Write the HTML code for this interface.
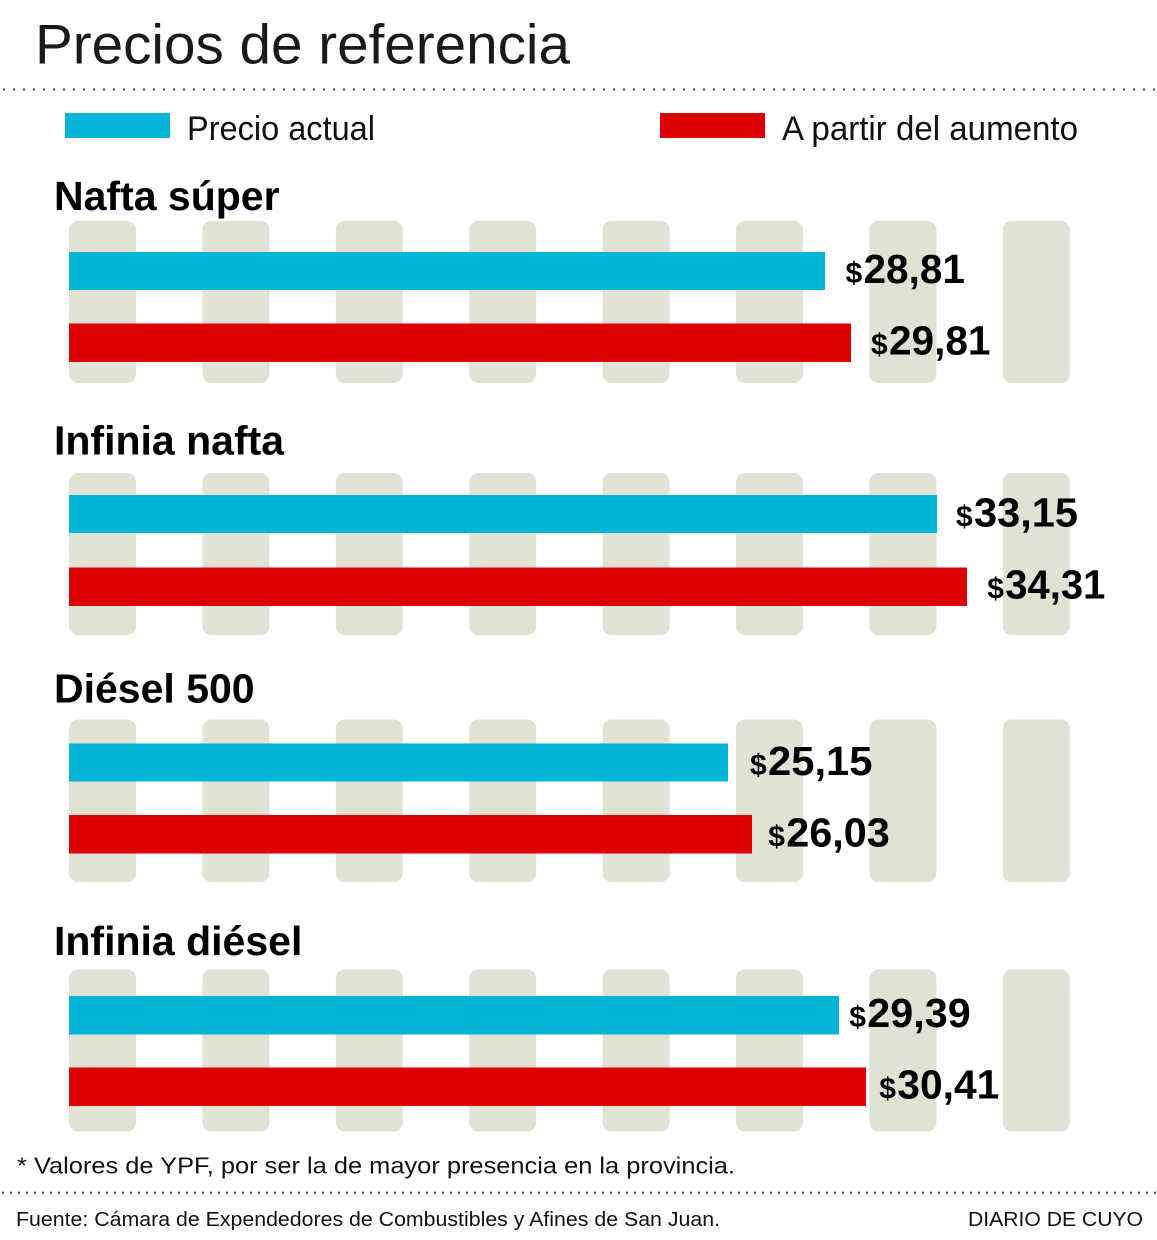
<!DOCTYPE html>
<html>
<head>
<meta charset="utf-8">
<style>
  html, body { margin: 0; padding: 0; background: #ffffff; }
  svg { display: block; }
  text { font-family: "Liberation Sans", Arial, sans-serif; }
</style>
</head>
<body>
<svg width="1157" height="1240" viewBox="0 0 1157 1240" xmlns="http://www.w3.org/2000/svg">
  <rect x="0" y="0" width="1157" height="1240" fill="#ffffff"/>

  <!-- Title -->
  <text x="35" y="63.5" font-size="56" fill="#1a1a1a" textLength="535" lengthAdjust="spacingAndGlyphs">Precios de referencia</text>

  <!-- top dotted line -->
  <line x1="3" y1="89.5" x2="1157" y2="89.5" stroke="#444" stroke-width="2" stroke-dasharray="2 8"/>

  <!-- Legend -->
  <rect x="65" y="113" width="105" height="25" fill="#00b5d7"/>
  <text x="187" y="140" font-size="34" fill="#111" textLength="188" lengthAdjust="spacingAndGlyphs">Precio actual</text>
  <rect x="660" y="113" width="105" height="25" fill="#dd0000"/>
  <text x="782" y="140" font-size="34" fill="#111" textLength="296" lengthAdjust="spacingAndGlyphs">A partir del aumento</text>

  <!-- Group titles -->
  <g font-size="41" font-weight="bold" fill="#000">
    <text x="54" y="210">Nafta súper</text>
    <text x="54" y="454.3">Infinia nafta</text>
    <text x="54" y="702.7">Diésel 500</text>
    <text x="54" y="955">Infinia diésel</text>
  </g>

  <!-- Pillars -->
  <g fill="#e1e1d4">
    <!-- group 1 -->
    <rect x="69" y="221" width="67" height="162" rx="9"/>
    <rect x="202.4" y="221" width="67" height="162" rx="9"/>
    <rect x="335.8" y="221" width="67" height="162" rx="9"/>
    <rect x="469.2" y="221" width="67" height="162" rx="9"/>
    <rect x="602.6" y="221" width="67" height="162" rx="9"/>
    <rect x="736" y="221" width="67" height="162" rx="9"/>
    <rect x="869.4" y="221" width="67" height="162" rx="9"/>
    <rect x="1002.8" y="221" width="67" height="162" rx="9"/>
    <!-- group 2 -->
    <rect x="69" y="473" width="67" height="162" rx="9"/>
    <rect x="202.4" y="473" width="67" height="162" rx="9"/>
    <rect x="335.8" y="473" width="67" height="162" rx="9"/>
    <rect x="469.2" y="473" width="67" height="162" rx="9"/>
    <rect x="602.6" y="473" width="67" height="162" rx="9"/>
    <rect x="736" y="473" width="67" height="162" rx="9"/>
    <rect x="869.4" y="473" width="67" height="162" rx="9"/>
    <rect x="1002.8" y="473" width="67" height="162" rx="9"/>
    <!-- group 3 -->
    <rect x="69" y="719.5" width="67" height="162.5" rx="9"/>
    <rect x="202.4" y="719.5" width="67" height="162.5" rx="9"/>
    <rect x="335.8" y="719.5" width="67" height="162.5" rx="9"/>
    <rect x="469.2" y="719.5" width="67" height="162.5" rx="9"/>
    <rect x="602.6" y="719.5" width="67" height="162.5" rx="9"/>
    <rect x="736" y="719.5" width="67" height="162.5" rx="9"/>
    <rect x="869.4" y="719.5" width="67" height="162.5" rx="9"/>
    <rect x="1002.8" y="719.5" width="67" height="162.5" rx="9"/>
    <!-- group 4 -->
    <rect x="69" y="969.5" width="67" height="162" rx="9"/>
    <rect x="202.4" y="969.5" width="67" height="162" rx="9"/>
    <rect x="335.8" y="969.5" width="67" height="162" rx="9"/>
    <rect x="469.2" y="969.5" width="67" height="162" rx="9"/>
    <rect x="602.6" y="969.5" width="67" height="162" rx="9"/>
    <rect x="736" y="969.5" width="67" height="162" rx="9"/>
    <rect x="869.4" y="969.5" width="67" height="162" rx="9"/>
    <rect x="1002.8" y="969.5" width="67" height="162" rx="9"/>
  </g>

  <!-- Bars -->
  <g>
    <rect x="69" y="252" width="756" height="38" fill="#00b5d7"/>
    <rect x="69" y="323.5" width="782" height="38.5" fill="#dd0000"/>

    <rect x="69" y="495" width="868" height="38" fill="#00b5d7"/>
    <rect x="69" y="567.5" width="898" height="38.5" fill="#dd0000"/>

    <rect x="69" y="743.5" width="659" height="38" fill="#00b5d7"/>
    <rect x="69" y="815" width="683" height="38.5" fill="#dd0000"/>

    <rect x="69" y="996" width="770" height="38.5" fill="#00b5d7"/>
    <rect x="69" y="1067.5" width="797" height="38.5" fill="#dd0000"/>
  </g>

  <!-- Value labels -->
  <g font-weight="bold" fill="#000">
    <text x="845.5" y="283" font-size="30">$</text>
    <text x="863.5" y="283" font-size="41" textLength="101.5" lengthAdjust="spacingAndGlyphs">28,81</text>
    <text x="871" y="354.5" font-size="30">$</text>
    <text x="889" y="354.5" font-size="41" textLength="101.5" lengthAdjust="spacingAndGlyphs">29,81</text>

    <text x="956" y="526.5" font-size="30">$</text>
    <text x="974" y="526.5" font-size="41" textLength="104" lengthAdjust="spacingAndGlyphs">33,15</text>
    <text x="987.3" y="598.5" font-size="30">$</text>
    <text x="1005.3" y="598.5" font-size="41" textLength="100" lengthAdjust="spacingAndGlyphs">34,31</text>

    <text x="750" y="775" font-size="30">$</text>
    <text x="768" y="775" font-size="41" textLength="104.5" lengthAdjust="spacingAndGlyphs">25,15</text>
    <text x="768.3" y="846.5" font-size="30">$</text>
    <text x="786.3" y="846.5" font-size="41" textLength="103.5" lengthAdjust="spacingAndGlyphs">26,03</text>

    <text x="849.3" y="1027" font-size="30">$</text>
    <text x="867.3" y="1027" font-size="41" textLength="103.4" lengthAdjust="spacingAndGlyphs">29,39</text>
    <text x="879.3" y="1098.5" font-size="30">$</text>
    <text x="897.3" y="1098.5" font-size="41" textLength="102" lengthAdjust="spacingAndGlyphs">30,41</text>
  </g>

  <!-- Footnote -->
  <text x="17" y="1173.5" font-size="23" fill="#111" textLength="718" lengthAdjust="spacingAndGlyphs">* Valores de YPF, por ser la de mayor presencia en la provincia.</text>

  <!-- bottom dotted line -->
  <line x1="2" y1="1192.7" x2="1157" y2="1192.7" stroke="#444" stroke-width="2" stroke-dasharray="2 6"/>

  <!-- Source -->
  <text x="16" y="1226" font-size="20" fill="#111" textLength="704" lengthAdjust="spacingAndGlyphs">Fuente: Cámara de Expendedores de Combustibles y Afines de San Juan.</text>
  <text x="968" y="1226" font-size="20" fill="#111" textLength="175" lengthAdjust="spacingAndGlyphs">DIARIO DE CUYO</text>
</svg>
</body>
</html>
